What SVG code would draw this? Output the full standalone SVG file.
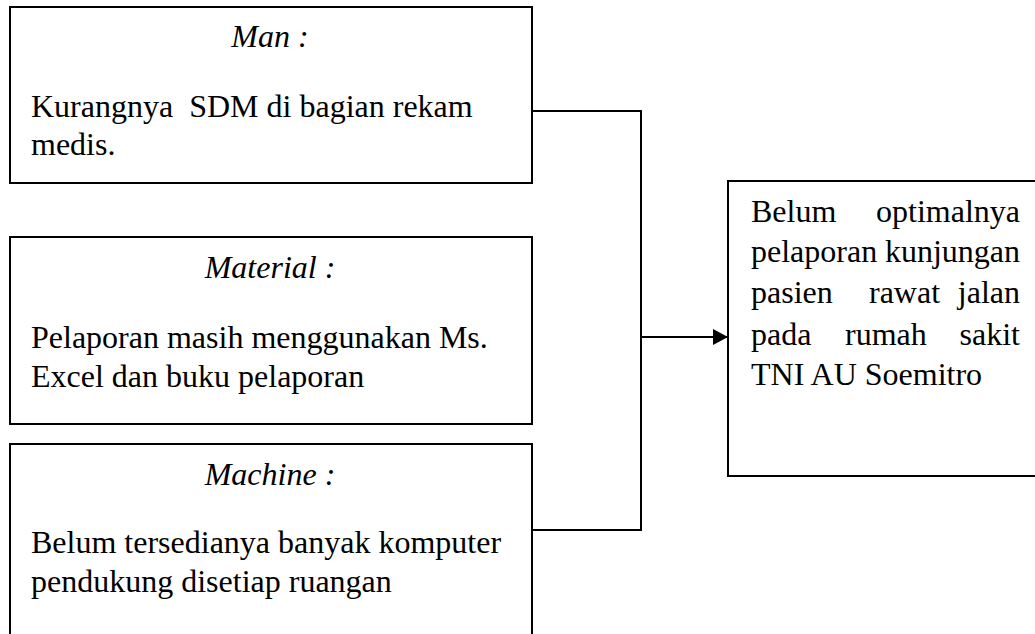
<svg xmlns="http://www.w3.org/2000/svg" width="1035" height="634" viewBox="0 0 1035 634">
<style>
.box{fill:#fff;stroke:#000;stroke-width:2}
.t{font-family:"Liberation Serif","Times New Roman",serif;font-size:32px;fill:#000}
.h{font-style:italic;text-anchor:middle}
.e{text-anchor:end}
.c{fill:none;stroke:#000;stroke-width:2}
</style>
<defs>
<marker id="arr" markerWidth="16" markerHeight="18" refX="15" refY="9" orient="auto" markerUnits="userSpaceOnUse">
<path d="M0,1 L15,9 L0,17 Z" fill="#000"/>
</marker>
</defs>
<rect width="1035" height="634" fill="#fff"/>
<g id="man">
<rect class="box" x="10" y="7" width="522" height="176"/>
<text class="t h" x="270" y="47">Man :</text>
<text class="t" x="31" y="117" xml:space="preserve">Kurangnya  SDM di bagian rekam</text>
<text class="t" x="31" y="155">medis.</text>
</g>
<g id="material">
<rect class="box" x="10" y="237" width="522" height="187"/>
<text class="t h" x="270" y="278">Material :</text>
<text class="t" x="31" y="348">Pelaporan masih menggunakan Ms.</text>
<text class="t" x="31" y="387">Excel dan buku pelaporan</text>
</g>
<g id="machine">
<rect class="box" x="10" y="444" width="522" height="210"/>
<text class="t h" x="270" y="485">Machine :</text>
<text class="t" x="31" y="553">Belum tersedianya banyak komputer</text>
<text class="t" x="31" y="592">pendukung disetiap ruangan</text>
</g>
<g id="result">
<rect class="box" x="728" y="181" width="330" height="295"/>
<text class="t" x="751" y="222">Belum</text>
<text class="t e" x="1020" y="222">optimalnya</text>
<text class="t" x="751" y="262">pelaporan</text>
<text class="t e" x="1020" y="262">kunjungan</text>
<text class="t" x="751" y="303">pasien</text>
<text class="t" x="869" y="303">rawat</text>
<text class="t e" x="1020" y="303">jalan</text>
<text class="t" x="751" y="345">pada</text>
<text class="t" x="845" y="345">rumah</text>
<text class="t e" x="1020" y="345">sakit</text>
<text class="t" x="751" y="385">TNI AU Soemitro</text>
</g>
<g id="connectors">
<polyline class="c" points="532,111 641,111 641,530 532,530"/>
<line class="c" x1="641" y1="337" x2="728" y2="337" marker-end="url(#arr)"/>
</g>
</svg>
